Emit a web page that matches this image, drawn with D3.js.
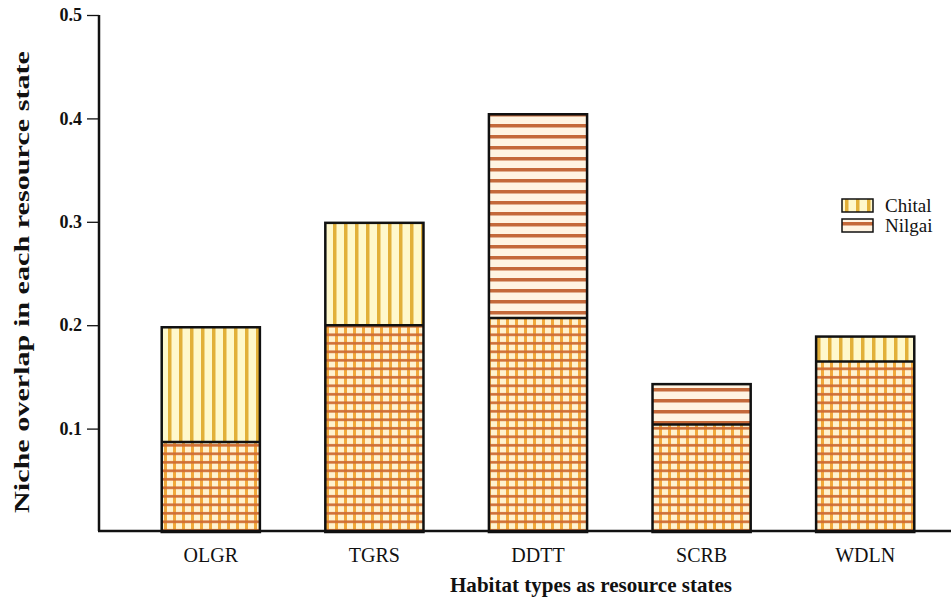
<!DOCTYPE html>
<html>
<head>
<meta charset="utf-8">
<script src="https://cdn.jsdelivr.net/npm/d3@7"></script>
<style>
  body { margin: 0; background: #fff; }
  svg { display: block; }
  text { font-family: "Liberation Serif", "Times New Roman", Times, Tinos, serif; fill: #111; }
</style>
</head>
<body>
<svg id="chart" width="951" height="605"></svg>
<script>
/*****************/
/*     Data      */
/*****************/
const habitats = ["OLGR", "TGRS", "DDTT", "SCRB", "WDLN"];
const chital   = [0.198, 0.299, 0.207, 0.104, 0.189];
const nilgai   = [0.087, 0.200, 0.404, 0.143, 0.165];
const yTicks   = [0.1, 0.2, 0.3, 0.4, 0.5];
const species  = ["Chital", "Nilgai"];

const serif = "'Liberation Serif', 'Times New Roman', Times, Tinos, serif";

const data = habitats.map((h, i) => ({
  habitat: h,
  chital: chital[i],
  nilgai: nilgai[i],
  top: chital[i] >= nilgai[i] ? "Chital" : "Nilgai",
  hi: Math.max(chital[i], nilgai[i]),
  lo: Math.min(chital[i], nilgai[i])
}));

const svg = d3.select("#chart");

/*****************/
/*    Scales     */
/*****************/
const xScale = d3.scaleBand()
  .domain(habitats)
  .range([129, 947])
  .paddingInner(0.4)
  .paddingOuter(0.2);

const yScale = d3.scaleLinear()
  .domain([0, 0.5])
  .range([532, 15]);

/*****************/
/*   Patterns    */
/*****************/
const defs = svg.append("defs");

const chitalPat = defs.append("pattern")
  .attr("id", "pat-Chital")
  .attr("patternUnits", "userSpaceOnUse")
  .attr("width", 11).attr("height", 11);
chitalPat.append("rect").attr("width", 11).attr("height", 11).attr("fill", "#fff8cc");
chitalPat.append("rect").attr("x", 3).attr("width", 3.5).attr("height", 11).attr("fill", "#e2b03a");

const nilgaiPat = defs.append("pattern")
  .attr("id", "pat-Nilgai")
  .attr("patternUnits", "userSpaceOnUse")
  .attr("width", 11).attr("height", 11);
nilgaiPat.append("rect").attr("width", 11).attr("height", 11).attr("fill", "#fff4e2");
nilgaiPat.append("rect").attr("y", 3).attr("width", 11).attr("height", 3.5).attr("fill", "#c4693a");

const crossPat = defs.append("pattern")
  .attr("id", "pat-cross")
  .attr("patternUnits", "userSpaceOnUse")
  .attr("width", 9).attr("height", 8.5);
crossPat.append("rect").attr("width", 9).attr("height", 8.5).attr("fill", "#fff2cf");
crossPat.append("rect").attr("x", 2).attr("width", 3).attr("height", 8.5).attr("fill", "#f1a83a");
crossPat.append("rect").attr("y", 2).attr("width", 9).attr("height", 2.6).attr("fill", "#cf6d34");

/*****************/
/*     Bars      */
/*****************/
const bars = svg.append("g").attr("class", "bars")
  .selectAll("g")
  .data(data)
  .join("g");

bars.append("rect")
  .attr("x", d => xScale(d.habitat))
  .attr("y", d => yScale(d.hi))
  .attr("width", xScale.bandwidth())
  .attr("height", d => yScale(0) - yScale(d.hi))
  .attr("fill", d => `url(#pat-${d.top})`);

bars.append("rect")
  .attr("x", d => xScale(d.habitat))
  .attr("y", d => yScale(d.lo))
  .attr("width", xScale.bandwidth())
  .attr("height", d => yScale(0) - yScale(d.lo))
  .attr("fill", "url(#pat-cross)");

bars.append("rect")
  .attr("x", d => xScale(d.habitat))
  .attr("y", d => yScale(d.hi))
  .attr("width", xScale.bandwidth())
  .attr("height", d => yScale(0) - yScale(d.hi))
  .attr("fill", "none")
  .attr("stroke", "#111")
  .attr("stroke-width", 2.5);

bars.append("line")
  .attr("x1", d => xScale(d.habitat))
  .attr("x2", d => xScale(d.habitat) + xScale.bandwidth())
  .attr("y1", d => yScale(d.lo))
  .attr("y2", d => yScale(d.lo))
  .attr("stroke", "#111")
  .attr("stroke-width", 2.5);

/*****************/
/*     Axes      */
/*****************/
const yAxis = svg.append("g")
  .attr("transform", "translate(99,0)")
  .call(d3.axisLeft(yScale).tickValues(yTicks).tickSize(12).tickPadding(5)
    .tickFormat(d3.format(".1f")));
yAxis.attr("font-family", null);
yAxis.select(".domain").remove();
yAxis.selectAll(".tick line").attr("stroke", "#111").attr("stroke-width", 1.3);
yAxis.selectAll(".tick text")
  .style("font-family", serif)
  .style("font-size", "18px")
  .style("font-weight", "bold")
  .attr("fill", "#222");

svg.append("line")
  .attr("x1", 99).attr("x2", 99)
  .attr("y1", yScale(0.5)).attr("y2", yScale(0) - 1)
  .attr("stroke", "#111").attr("stroke-width", 2.5);

svg.append("line")
  .attr("x1", 98).attr("x2", 951)
  .attr("y1", yScale(0) - 1).attr("y2", yScale(0) - 1)
  .attr("stroke", "#111").attr("stroke-width", 2.5);

svg.append("g").selectAll("text")
  .data(habitats)
  .join("text")
    .attr("x", d => xScale(d) + xScale.bandwidth() / 2)
    .attr("y", 562)
    .attr("text-anchor", "middle")
    .style("font-family", serif)
    .style("font-size", "20px")
    .text(d => d);

/*****************/
/*    Titles     */
/*****************/
svg.append("text")
  .attr("transform", "translate(29,282) rotate(-90)")
  .attr("text-anchor", "middle")
  .attr("textLength", 462)
  .attr("lengthAdjust", "spacingAndGlyphs")
  .style("font-family", serif)
  .style("font-size", "22px")
  .style("font-weight", "bold")
  .text("Niche overlap in each resource state");

svg.append("text")
  .attr("x", 591)
  .attr("y", 592)
  .attr("text-anchor", "middle")
  .attr("textLength", 282)
  .attr("lengthAdjust", "spacingAndGlyphs")
  .style("font-family", serif)
  .style("font-size", "21px")
  .style("font-weight", "bold")
  .text("Habitat types as resource states");

/*****************/
/*    Legend     */
/*****************/
const legend = svg.append("g")
  .selectAll("g")
  .data(species)
  .join("g")
    .attr("transform", (_, i) => `translate(842, ${199 + i * 20})`);

legend.append("rect")
  .attr("width", 31)
  .attr("height", 13)
  .attr("fill", d => `url(#pat-${d})`)
  .attr("stroke", "#111")
  .attr("stroke-width", 1.5);

legend.append("text")
  .attr("x", 43)
  .attr("y", 13)
  .style("font-family", serif)
  .style("font-size", "19px")
  .text(d => d);
</script>
</body>
</html>
